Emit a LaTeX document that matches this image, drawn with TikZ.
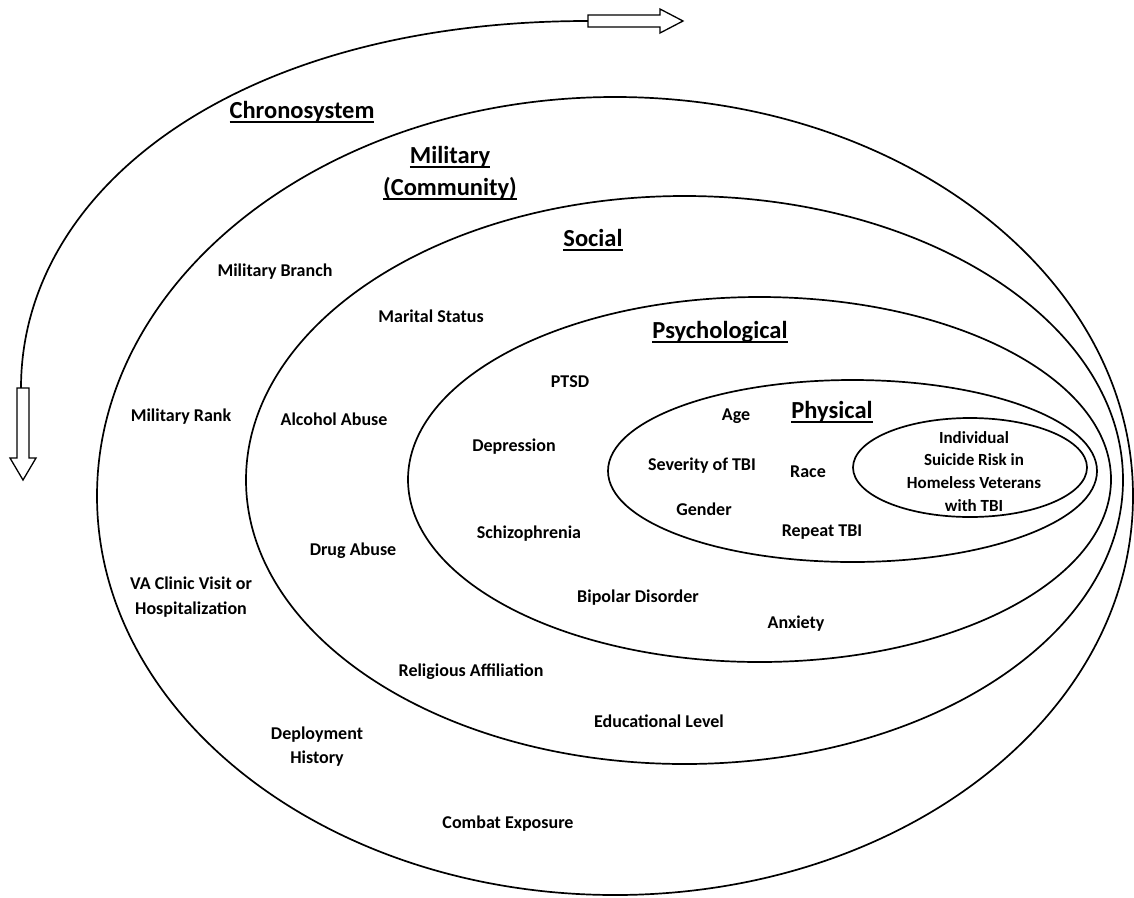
\documentclass[tikz,border=0pt]{standalone}
\usepackage{fontspec}
\setmainfont{Carlito}
\newcommand{\ulw}[1]{\leavevmode\setbox0\hbox{#1}\rlap{\vrule height -3pt depth 5pt width \wd0}\box0}
\begin{document}
\begin{tikzpicture}[x=1pt,y=-1pt,
  ring/.style={line width=1.7pt},
  heading/.style={font=\fontsize{24.5}{29}\selectfont\bfseries, anchor=base, inner sep=0pt},
  lbl/.style={font=\fontsize{18}{22}\selectfont\bfseries, anchor=base, inner sep=0pt},
  core/.style={font=\fontsize{17}{21}\selectfont\bfseries, anchor=base, inner sep=0pt},
  blockarrow/.style={draw, fill=white, line width=1.3pt, line join=miter}]
\useasboundingbox (0,0) rectangle (1134,897);
\fill[white] (0,0) rectangle (1134,897);

% nested ellipses
\draw[ring] (615,496) ellipse [x radius=518pt, y radius=399pt];
\draw[ring] (684.5,480) ellipse [x radius=438.5pt, y radius=284pt];
\draw[ring] (759.5,479.5) ellipse [x radius=351.5pt, y radius=182.5pt];
\draw[ring] (852.5,471) ellipse [x radius=244.5pt, y radius=91pt];
\draw[ring] (970,467.5) ellipse [x radius=117pt, y radius=49.5pt];

% chronosystem arc and arrows
\coordinate (arcL) at (21,388);
\coordinate (arcT) at (588,21);
\draw[ring] (arcL) .. controls +(0,-200) and +(-350,0) .. (arcT);
\draw[blockarrow] (588,15) -- (660,15) -- (660,9) -- (683,21) -- (660,33) -- (660,27) -- (588,27) -- cycle;
\draw[blockarrow] (17,388) -- (29,388) -- (29,458) -- (36,458) -- (23,480) -- (10,458) -- (17,458) -- cycle;

% headings
\node[heading] (chrono) at (302,118) {\ulw{Chronosystem}};
\node[heading] (mil1) at (450,163) {\ulw{Military}};
\node[heading] (mil2) at (450,195) {\ulw{(Community)}};
\node[heading] (soc) at (593,246) {\ulw{Social}};
\node[heading] (psy) at (720,338) {\ulw{Psychological}};
\node[heading] (phy) at (832,418) {\ulw{Physical}};

% core
\node[core] (ind1) at (974,443) {Individual};
\node[core] (ind2) at (974,465) {Suicide Risk in};
\node[core] (ind3) at (974,488) {Homeless Veterans};
\node[core] (ind4) at (974,511) {with TBI};

% military ring
\node[lbl] (branch) at (275,276) {Military Branch};
\node[lbl] (rank) at (181,421) {Military Rank};
\node[lbl] (va1) at (191,589) {VA Clinic Visit or};
\node[lbl] (va2) at (191,614) {Hospitalization};
\node[lbl] (dep1) at (317,739) {Deployment};
\node[lbl] (dep2) at (317,763) {History};
\node[lbl] (combat) at (508,828) {Combat Exposure};

% social ring
\node[lbl] (marital) at (431,322) {Marital Status};
\node[lbl] (alcohol) at (334,425) {Alcohol Abuse};
\node[lbl] (drug) at (353,555) {Drug Abuse};
\node[lbl] (relig) at (471,676) {Religious Affiliation};
\node[lbl] (edu) at (659,727) {Educational Level};

% psychological ring
\node[lbl] (ptsd) at (570,387) {PTSD};
\node[lbl] (depr) at (514,451) {Depression};
\node[lbl] (schiz) at (529,538) {Schizophrenia};
\node[lbl] (bip) at (638,602) {Bipolar Disorder};
\node[lbl] (anx) at (796,628) {Anxiety};

% physical ring
\node[lbl] (age) at (736,420) {Age};
\node[lbl] (sev) at (702,470) {Severity of TBI};
\node[lbl] (race) at (808,477) {Race};
\node[lbl] (gender) at (704,515) {Gender};
\node[lbl] (repeat) at (822,536) {Repeat TBI};
\end{tikzpicture}
\end{document}
